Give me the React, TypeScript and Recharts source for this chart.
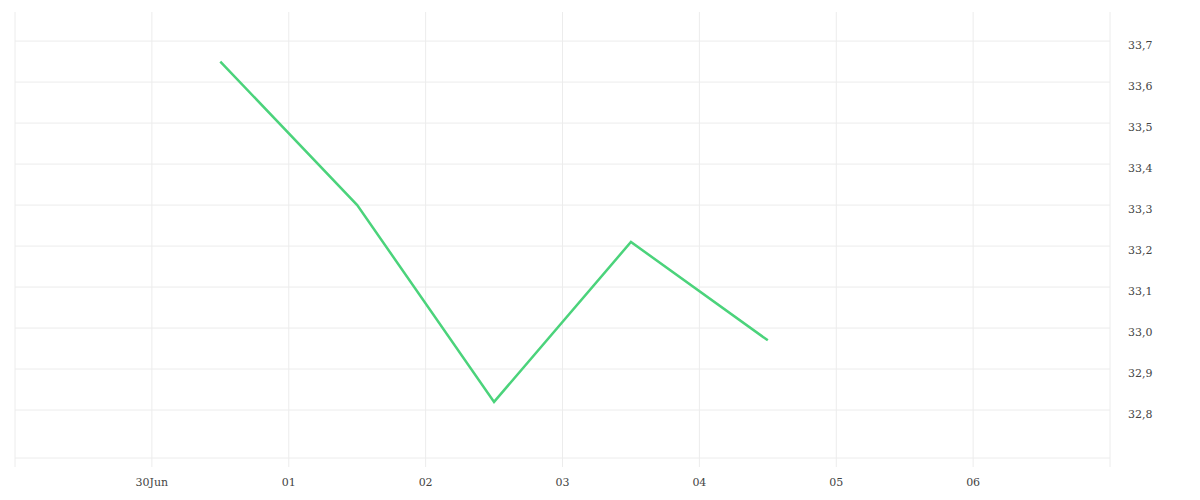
import { LineChart, Line, XAxis, YAxis, CartesianGrid } from "recharts";

// x positions are in days from 29 Jun 00:00; points sit at midday
const dayPos = [1.5, 2.5, 3.5, 4.5, 5.5];
const prices = [33.65, 33.3, 32.82, 33.21, 32.97];

const xTicks = [0, 1, 2, 3, 4, 5, 6, 7, 8];
const xTickLabels = ["", "30Jun", "01", "02", "03", "04", "05", "06", ""];
const yTicks = [32.8, 32.9, 33.0, 33.1, 33.2, 33.3, 33.4, 33.5, 33.6, 33.7];

const data = dayPos.map((d, i) => ({ day: d, price: prices[i] }));

const grid = "#ececec";
const tickStyle = { fill: "#444", fontSize: 11, fontFamily: "DejaVu Serif" };

export default function App() {
    return (
        <div style={{ width: 1192, height: 492 }}>
            <LineChart width={1192} height={492} data={data} margin={{ top: 4, right: 10, left: 7, bottom: 8 }}>
                <CartesianGrid stroke={grid} strokeWidth={1} syncWithTicks />
                <XAxis
                    dataKey="day"
                    type="number"
                    domain={[0, 8]}
                    ticks={xTicks}
                    tickFormatter={(v: number) => xTickLabels[v] ?? ""}
                    tick={tickStyle}
                    axisLine={{ stroke: grid }}
                    tickLine={{ stroke: grid }}
                    tickSize={9}
                    tickMargin={11}
                    height={34}
                    interval={0}
                />
                <YAxis
                    orientation="right"
                    type="number"
                    domain={[32.683, 33.771]}
                    ticks={yTicks}
                    tickFormatter={(v: number) => v.toFixed(1).replace(".", ",")}
                    tick={{ ...tickStyle, dy: 4 }}
                    axisLine={false}
                    tickLine={false}
                    tickSize={0}
                    tickMargin={18}
                    width={80}
                    interval={0}
                />
                <Line
                    type="linear"
                    dataKey="price"
                    stroke="#4bd37b"
                    strokeWidth={2.5}
                    dot={false}
                    activeDot={false}
                    isAnimationActive={false}
                />
            </LineChart>
        </div>
    );
}
